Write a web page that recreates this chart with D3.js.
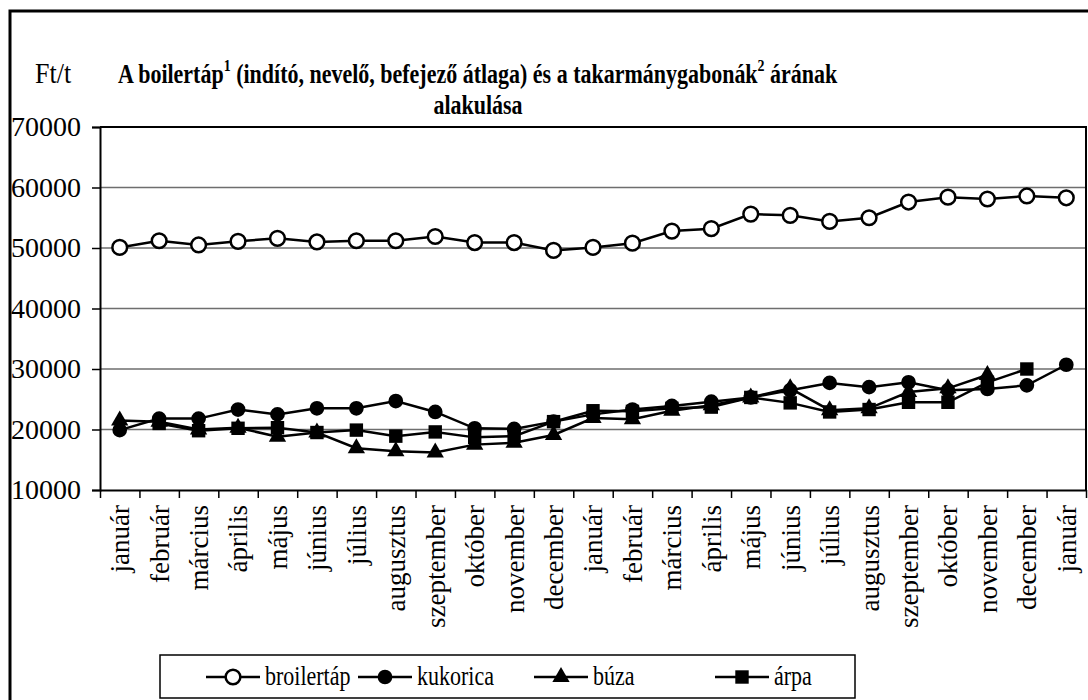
<!DOCTYPE html>
<html>
<head>
<meta charset="utf-8">
<script src="https://cdn.jsdelivr.net/npm/d3@7"></script>
<style>
body { margin: 0; background: #fff; }
svg text { font-family: "Liberation Serif", "Times New Roman", Times, "DejaVu Serif", serif; }
</style>
</head>
<body>
<svg></svg>
<script>
var screen = {width: 1088, height: 700};
var plot = {left: 100, right: 1086, top: 127, bottom: 490};

// x categories (two years of months plus the next January)
var months = ["január", "február", "március", "április", "május", "június",
              "július", "augusztus", "szeptember", "október", "november", "december",
              "január", "február", "március", "április", "május", "június",
              "július", "augusztus", "szeptember", "október", "november", "december",
              "január"];

// Ft/t values
var broilertap = [50100, 51200, 50500, 51100, 51600, 51000, 51200, 51200, 51900, 50900, 50900, 49600,
                  50100, 50800, 52800, 53200, 55600, 55400, 54400, 55000, 57600, 58400, 58100, 58600,
                  58300];
var kukorica = [19900, 21800, 21800, 23300, 22500, 23500, 23500, 24700, 22900, 20200, 20100, 21300,
                22500, 23300, 23900, 24600, 25300, 26500, 27700, 27000, 27800, 26500, 26700, 27300,
                30700];
var buza = [21500, 21300, 20000, 20300, 18800, 19500, 16900, 16400, 16200, 17500, 17800, 19100,
            21900, 21700, 23100, 24000, 25300, 26800, 23200, 23500, 26200, 26800, 29000, null,
            null];
var arpa = [null, 21000, 19800, 20200, 20300, 19500, 19900, 18900, 19600, 18700, 18900, 21300,
            23100, 23000, 23500, 23700, 25300, 24400, 22900, 23300, 24500, 24500, 27800, 30000,
            null];

var yTicks = [10000, 20000, 30000, 40000, 50000, 60000, 70000];
var seriesNames = ["broilertáp", "kukorica", "búza", "árpa"];
var seriesShapes = ["openCircle", "circle", "triangle", "square"];

var series = seriesNames.map(function(name, i)
{
    return {name: name, shape: seriesShapes[i], values: [broilertap, kukorica, buza, arpa][i]};
});

var svg = d3.select("svg")
    .attr("width", screen.width)
    .attr("height", screen.height);

// outer frame (runs off the right and bottom of the picture)
svg.append("rect")
    .attr("x", 10)
    .attr("y", 11)
    .attr("width", 1100)
    .attr("height", 700)
    .attr("fill", "none")
    .attr("stroke", "black")
    .attr("stroke-width", 3);

var xScale = d3.scaleBand()
    .domain(d3.range(months.length))
    .range([plot.left, plot.right]);

var xEdges = d3.scaleLinear()
    .domain([0, months.length])
    .range([plot.left, plot.right]);

var yScale = d3.scaleLinear()
    .domain([10000, 70000])
    .range([plot.bottom, plot.top]);

// gridlines
svg.append("g")
    .selectAll("line")
    .data(yTicks.slice(1, -1))
    .enter()
    .append("line")
    .attr("x1", plot.left)
    .attr("x2", plot.right)
    .attr("y1", function(d){return yScale(d);})
    .attr("y2", function(d){return yScale(d);})
    .attr("stroke", "#6e6e6e")
    .attr("stroke-width", 1.5);

// top and right edges of the plot
svg.append("path")
    .attr("d", "M" + plot.left + "," + yScale(70000) + "H" + plot.right + "V" + plot.bottom)
    .attr("fill", "none")
    .attr("stroke", "black")
    .attr("stroke-width", 2);

var yAxis = d3.axisLeft(yScale)
    .tickValues(yTicks)
    .tickFormat(d3.format("d"))
    .tickSize(8)
    .tickPadding(11);

svg.append("g")
    .attr("class", "axis")
    .attr("transform", "translate(" + plot.left + ",0)")
    .call(yAxis)
    .call(function(g)
    {
        g.attr("font-family", null);
        g.select(".domain").attr("stroke-width", 2);
        g.selectAll(".tick line").attr("stroke-width", 1.5);
        g.selectAll("text")
            .attr("font-size", 28)
            .attr("fill", "black");
    });

var xTicks = d3.axisBottom(xEdges)
    .tickValues(d3.range(months.length + 1))
    .tickFormat("")
    .tickSize(8)
    .tickSizeOuter(0);

svg.append("g")
    .attr("transform", "translate(0," + plot.bottom + ")")
    .call(xTicks)
    .call(function(g)
    {
        g.select(".domain").attr("stroke-width", 2);
        g.selectAll(".tick line").attr("stroke-width", 1.5);
    });

var xLabels = d3.axisBottom(xScale)
    .tickFormat(function(i){return months[i];})
    .tickSize(0);

svg.append("g")
    .attr("transform", "translate(0," + plot.bottom + ")")
    .call(xLabels)
    .call(function(g)
    {
        g.attr("font-family", null);
        g.select(".domain").remove();
        g.selectAll("text")
            .attr("font-size", 27)
            .attr("fill", "black")
            .attr("text-anchor", "end")
            .attr("transform", "rotate(-90)")
            .attr("x", -15)
            .attr("y", 0)
            .attr("dy", "0.35em");
    });

var lineGenerator = d3.line()
    .defined(function(d){return d != null;})
    .x(function(d, i){return xScale(i) + xScale.bandwidth() / 2;})
    .y(function(d){return yScale(d);});

var markerPath = function(shape)
{
    if (shape == "triangle") return d3.symbol(d3.symbolTriangle, 130)();
    if (shape == "square") return d3.symbol(d3.symbolSquare, 180)();
    return d3.symbol(d3.symbolCircle, 170)();
};

var drawMarker = function(sel, shape)
{
    sel.attr("d", markerPath(shape))
        .attr("fill", shape == "openCircle" ? "white" : "black")
        .attr("stroke", "black")
        .attr("stroke-width", shape == "openCircle" ? 2.5 : 0);
};

// draw in reverse so broilertáp sits on top
var seriesG = svg.append("g")
    .selectAll("g")
    .data(series.slice().reverse())
    .enter()
    .append("g");

seriesG.append("path")
    .attr("d", function(s){return lineGenerator(s.values);})
    .attr("fill", "none")
    .attr("stroke", "black")
    .attr("stroke-width", 2.5);

seriesG.each(function(s)
{
    d3.select(this)
        .selectAll("path.marker")
        .data(s.values.map(function(v, i){return {v: v, i: i};}).filter(function(d){return d.v != null;}))
        .enter()
        .append("path")
        .attr("class", "marker")
        .attr("transform", function(d)
        {
            return "translate(" + (xScale(d.i) + xScale.bandwidth() / 2) + "," + yScale(d.v) + ")";
        })
        .call(drawMarker, s.shape);
});

// titles (the original glyphs are drawn a bit taller than wide)
svg.append("text")
    .attr("transform", "translate(35,83) scale(1,1.15)")
    .attr("font-size", 26)
    .text("Ft/t");

var title = svg.append("text")
    .attr("transform", "translate(118,83) scale(1,1.2)")
    .attr("font-size", 22)
    .attr("font-weight", "bold");
title.append("tspan").text("A boilertáp");
title.append("tspan").attr("font-size", 14).attr("dy", -10).text("1");
title.append("tspan").attr("dy", 10).text(" (indító, nevelő, befejező átlaga) és a takarmánygabonák");
title.append("tspan").attr("font-size", 14).attr("dy", -10).text("2");
title.append("tspan").attr("dy", 10).text(" árának");

svg.append("text")
    .attr("transform", "translate(478,114) scale(1,1.2)")
    .attr("font-size", 22)
    .attr("font-weight", "bold")
    .attr("text-anchor", "middle")
    .text("alakulása");

// legend
var legendX = [233, 385, 561, 742];

svg.append("rect")
    .attr("x", 160)
    .attr("y", 655)
    .attr("width", 695)
    .attr("height", 43)
    .attr("fill", "white")
    .attr("stroke", "black")
    .attr("stroke-width", 1.5);

var legendItem = svg.append("g")
    .selectAll("g")
    .data(series)
    .enter()
    .append("g")
    .attr("transform", function(s, i){return "translate(" + legendX[i] + ",677)";});

legendItem.append("line")
    .attr("x1", -27)
    .attr("x2", 27)
    .attr("stroke", "black")
    .attr("stroke-width", 2.5);

legendItem.append("path")
    .each(function(s){d3.select(this).call(drawMarker, s.shape);});

legendItem.append("text")
    .attr("transform", "translate(32,8) scale(1,1.25)")
    .attr("font-size", 22)
    .text(function(s){return s.name;});
</script>
</body>
</html>
